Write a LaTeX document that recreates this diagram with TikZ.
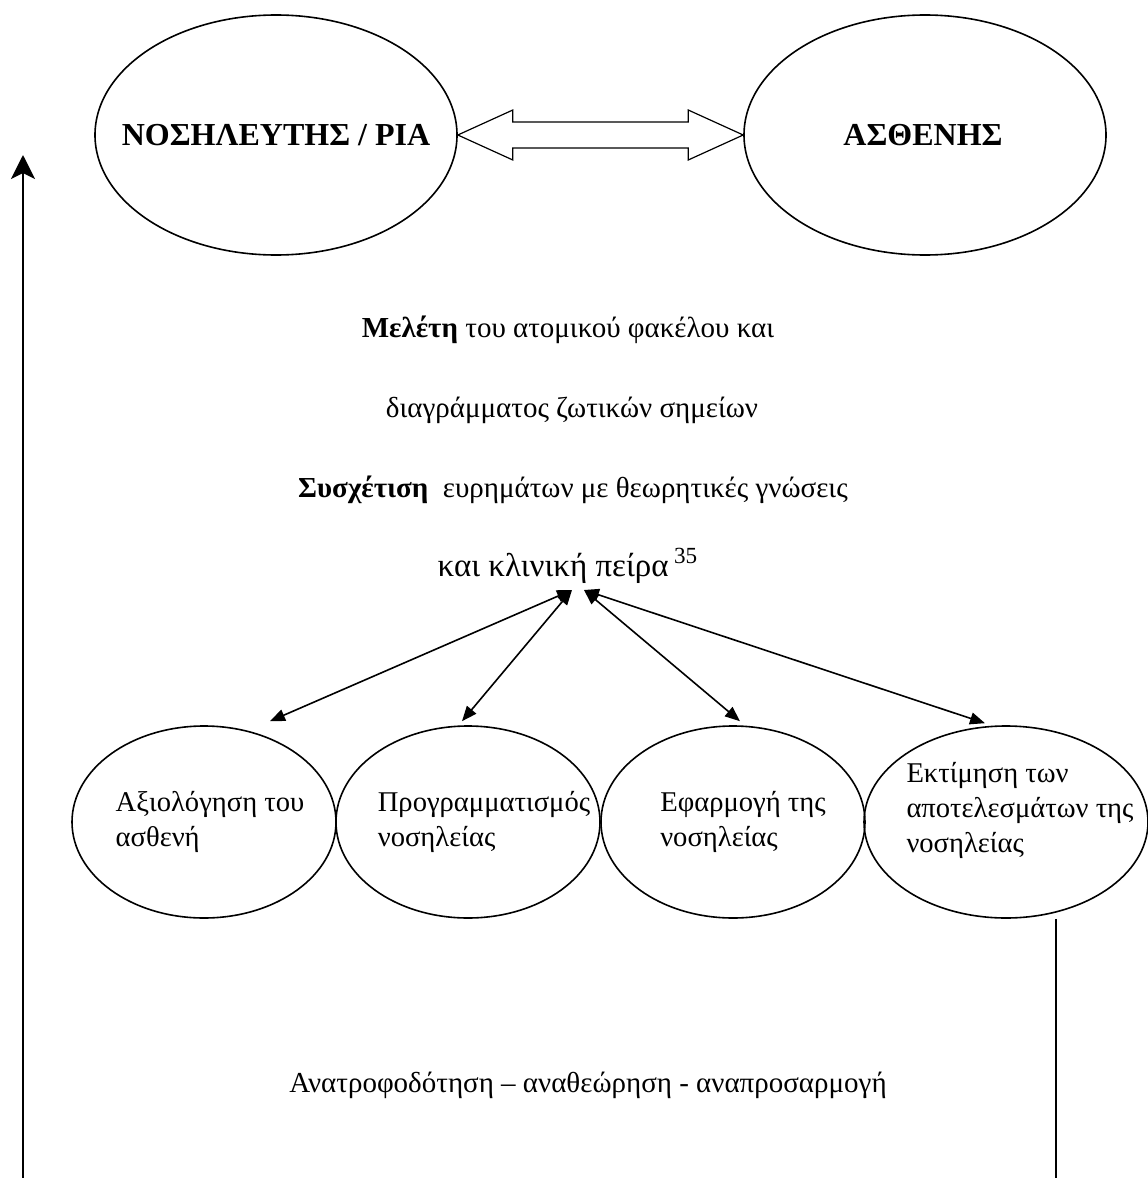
\documentclass[tikz,border=0pt]{standalone}
\usepackage{fontspec}
\setmainfont{Liberation Serif}
\usetikzlibrary{shapes.geometric,arrows.meta,calc,positioning}
\tikzset{
        % Nurse and patient
        node_actor/.style={ellipse, draw, line width=0.8pt, inner sep=0pt, minimum width=181pt, minimum height=120pt},
        actor_text/.style={font=\fontsize{16}{18}\selectfont\bfseries},
        % Stages of the nursing process
        node_stage/.style={ellipse, draw, line width=0.8pt, inner sep=0pt, minimum width=132pt, minimum height=96pt},
        stage_text/.style={align=left, inner sep=0pt, font=\fontsize{14.3}{17.5}\selectfont},
        % Free text lines
        node_line/.style={inner sep=0pt, font=\fontsize{14.5}{17}\selectfont},
        % Connectors
        link/.style={line width=0.8pt, {Triangle[length=7.5pt,width=6pt]}-{Triangle[length=7.5pt,width=6pt]}},
        feedback/.style={line width=1.2pt},
        blockarrow/.style={draw, line width=0.6pt, fill=white}
}
\begin{document}
\begin{tikzpicture}[x=0.5pt, y=-0.5pt]
    \useasboundingbox (0,0) rectangle (1147,1178);
    \node[node_actor, label={[actor_text]center:ΝΟΣΗΛΕΥΤΗΣ / ΡΙΑ}] (nurse) at (276,135) {};
    \node[node_actor, label={[actor_text, xshift=-1pt]center:ΑΣΘΕΝΗΣ}] (patient) at (925,135) {};
    \draw[blockarrow] (nurse.east) -- ++(55,-25) -- ++(0,12) -- ($(patient.west)+(-55,-13)$) -- ++(0,-12) -- (patient.west)
        -- ++(-55,25) -- ++(0,-12) -- ($(nurse.east)+(55,13)$) -- ++(0,12) -- cycle;

    \node[node_line] (study1) at (568,330) {\textbf{Μελέτη} του ατομικού φακέλου και};
    \node[node_line] (study2) at (572,410) {διαγράμματος ζωτικών σημείων};
    \node[node_line] (relate1) at (573,490) {\textbf{Συσχέτιση}\ \ ευρημάτων με θεωρητικές γνώσεις};
    \node[node_line, font=\fontsize{16.5}{18}\selectfont] (relate2) at (568,566) {και κλινική πείρα\,\textsuperscript{35}};
    \coordinate (hubL) at (572,590);
    \coordinate (hubR) at (584,590);

    \node[node_stage, label={[stage_text, xshift=3pt]center:Αξιολόγηση του\\ασθενή}] (assess) at (204,822) {};
    \node[node_stage, label={[stage_text, xshift=8pt]center:Προγραμματισμός\\νοσηλείας}] (plan) at (468,822) {};
    \node[node_stage, label={[stage_text, xshift=5pt]center:Εφαρμογή της\\νοσηλείας}] (implement) at (733,822) {};
    \node[node_stage, minimum width=142pt, label={[stage_text, xshift=7pt, yshift=6pt]center:Εκτίμηση των\\αποτελεσμάτων της\\νοσηλείας}] (evaluate) at (1006,822) {};

    \draw[link] (hubL) -- ($(assess.north)+(66,-4)$);
    \draw[link] (hubL) -- ($(plan.north)+(-6,-4)$);
    \draw[link] (hubR) -- ($(implement.north)+(7,-4)$);
    \draw[link] (hubR) -- ($(evaluate.north)+(-21,-2)$);

    \node[node_line] (review) at (588,1085) {Ανατροφοδότηση – αναθεώρηση - αναπροσαρμογή};
    \coordinate (fbstart) at (1056,1178);
    \coordinate (fbend) at (23,1178);
    \coordinate (fbtop) at (23,155);
    \draw[feedback] (evaluate.south -| fbstart) -- (fbstart);
    \draw[feedback, -{Stealth[length=12pt, width=12pt, inset=3pt]}] (fbend) -- (fbtop);
\end{tikzpicture}
\end{document}
